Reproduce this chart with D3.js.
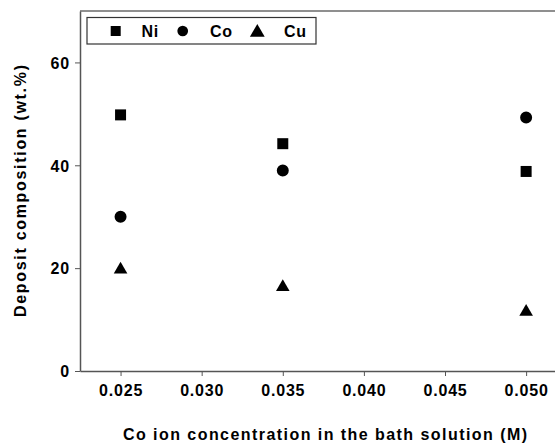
<!DOCTYPE html>
<html>
<head>
<meta charset="utf-8">
<script src="https://cdn.jsdelivr.net/npm/d3@7"></script>
<style>
  html, body { margin: 0; padding: 0; background: #fff; overflow: hidden; }
  svg { display: block; overflow: hidden; }
  text { font-family: "Liberation Sans", Arial, sans-serif; font-weight: bold; fill: #000; }
</style>
</head>
<body>
<script>
// Co ion concentration in the bath (M) and deposit composition (wt.%)
const concentrations = [0.025, 0.035, 0.050];
const niValues = [49.8, 44.2, 38.8];
const coValues = [30.0, 39.0, 49.3];
const cuValues = [20.0, 16.6, 11.8];
const seriesNames = ["Ni", "Co", "Cu"];
const xTicks = [0.025, 0.030, 0.035, 0.040, 0.045, 0.050];
const yTicks = [0, 20, 40, 60];

const W = 555, H = 443;
const svg = d3.select("body").append("svg").attr("width", W).attr("height", H);

// the visible plot area stops at the page's right edge
const x = d3.scaleLinear().domain([0.0225, 0.05178]).range([80, 555]);
const y = d3.scaleLinear().domain([0, 70]).range([371, 11]);

const axisColor = "#555";

// top edge of the frame
svg.append("line")
  .attr("x1", x.range()[0]).attr("x2", x.range()[1])
  .attr("y1", y(70)).attr("y2", y(70))
  .attr("stroke", "#6a6a6a").attr("stroke-width", 1.5);

// x axis
const xAxis = svg.append("g").attr("transform", `translate(0,${y(0)})`)
  .call(d3.axisBottom(x).tickValues(xTicks).tickFormat(d3.format(".3f"))
    .tickSize(5).tickSizeOuter(0).tickPadding(9));
// y axis
const yAxis = svg.append("g").attr("transform", `translate(${x.range()[0]},0)`)
  .call(d3.axisLeft(y).tickValues(yTicks).tickFormat(d3.format("d"))
    .tickSize(5).tickSizeOuter(0).tickPadding(5));

[xAxis, yAxis].forEach(g => {
  g.select(".domain").attr("stroke", axisColor).attr("stroke-width", 1.5);
  g.selectAll(".tick line").attr("stroke", axisColor).attr("stroke-width", 1);
  g.selectAll(".tick text")
    .style("font-family", '"Liberation Sans", Arial, sans-serif')
    .style("font-weight", "bold").style("font-size", "16px")
    .style("letter-spacing", "0.8px").attr("fill", "#000");
});
yAxis.selectAll(".tick text").attr("dy", "0.36em");

// axis titles
svg.append("text")
  .attr("x", 325).attr("y", 439.5)
  .attr("text-anchor", "middle")
  .attr("textLength", 404).attr("lengthAdjust", "spacing")
  .style("font-size", "16px")
  .text("Co ion concentration in the bath solution (M)");

svg.append("text")
  .attr("transform", `translate(25.5,191) rotate(-90)`)
  .attr("text-anchor", "middle")
  .attr("textLength", 252).attr("lengthAdjust", "spacing")
  .style("font-size", "16px")
  .text("Deposit composition (wt.%)");

// symbol generators for the three series
const symbols = [d3.symbolSquare, d3.symbolCircle, d3.symbolTriangle];
const sizes = [121, 113, 80];
const seriesValues = [niValues, coValues, cuValues];

seriesValues.forEach((vals, si) => {
  const gen = d3.symbol().type(symbols[si]).size(sizes[si]);
  svg.append("g").selectAll("path")
    .data(concentrations.map((c, i) => ({ c, v: vals[i] })))
    .join("path")
    .attr("transform", d => `translate(${x(d.c)},${y(d.v) + (si === 2 ? 1.5 : 0)})`)
    .attr("d", gen())
    .attr("fill", "#000");
});

// legend
const legend = svg.append("g");
legend.append("rect")
  .attr("x", 87).attr("y", 17.5).attr("width", 229).attr("height", 26.5)
  .attr("fill", "#fff").attr("stroke", "#333").attr("stroke-width", 1.2);
const legendSym = [115.7, 182.7, 257.3];
const legendText = [141.5, 210, 284];
const legendSizes = [100, 90, 95];
seriesNames.forEach((name, i) => {
  legend.append("path")
    .attr("transform", `translate(${legendSym[i]},${31 + (i === 2 ? 1.5 : 0)})`)
    .attr("d", d3.symbol().type(symbols[i]).size(legendSizes[i])())
    .attr("fill", "#000");
  legend.append("text")
    .attr("x", legendText[i]).attr("y", 36.5)
    .style("font-size", "16px").style("letter-spacing", "0.8px")
    .text(name);
});
</script>
</body>
</html>
